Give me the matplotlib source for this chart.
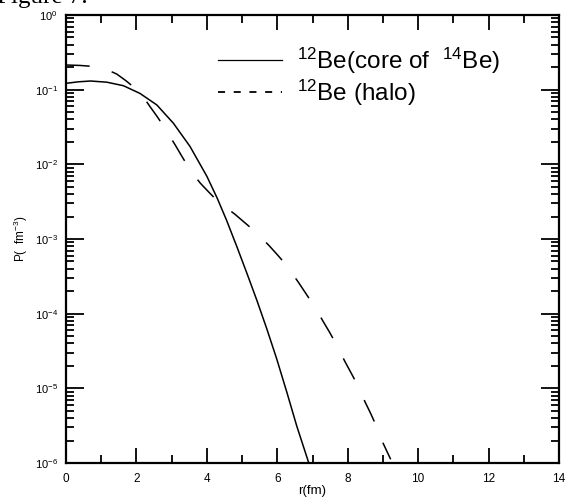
import numpy as np
import matplotlib
matplotlib.use("Agg")
import matplotlib.pyplot as plt
from matplotlib.lines import Line2D
from matplotlib.ticker import LogLocator, MultipleLocator, NullFormatter

plt.rcParams['font.family'] = ['Liberation Sans', 'DejaVu Sans']
plt.rcParams['mathtext.fontset'] = 'custom'
plt.rcParams['mathtext.rm'] = 'Liberation Sans'
plt.rcParams['mathtext.it'] = 'Liberation Sans'

# density of 12Be as core of 14Be (solid)
r_core = [0.0, 0.35, 0.7, 1.16, 1.63, 2.1, 2.58, 3.05, 3.52, 4.0, 4.3, 4.56, 4.85,
          5.13, 5.42, 5.70, 5.98, 6.27, 6.55, 6.88]
p_core = [0.1216, 0.1274, 0.1306, 0.1259, 0.1130, 0.0891, 0.0624, 0.0355, 0.0174,
          6.92e-3, 3.47e-3, 1.78e-3, 7.94e-4, 3.55e-4, 1.51e-4, 6.31e-5, 2.51e-5,
          8.91e-6, 3.16e-6, 1.05e-6]

# density of 12Be halo (dashed)
r_halo = [0.0, 0.4, 0.82, 1.1, 1.44, 1.7, 1.99, 2.2, 2.39, 2.58, 2.76, 2.93, 3.1,
          3.27, 3.44, 3.62, 3.81, 4.05, 4.28, 4.55, 4.8, 5.06, 5.32, 5.55, 5.77,
          6.0, 6.24, 6.42, 6.6, 6.79, 6.98, 7.15, 7.31, 7.48, 7.64, 7.78, 7.92,
          8.08, 8.24, 8.37, 8.49, 8.64, 8.78, 8.9, 9.01, 9.12, 9.22]
p_halo = [0.214, 0.211, 0.204, 0.191, 0.162, 0.132, 0.102, 0.0794, 0.0589, 0.0442,
          0.0331, 0.0245, 0.0182, 0.0133, 9.77e-3, 7.33e-3, 5.62e-3, 4.27e-3,
          3.31e-3, 2.63e-3, 2.14e-3, 1.68e-3, 1.32e-3, 1.04e-3, 8.13e-4, 6.17e-4,
          4.57e-4, 3.47e-4, 2.63e-4, 1.93e-4, 1.41e-4, 1.05e-4, 7.76e-5, 5.69e-5,
          4.17e-5, 3.09e-5, 2.29e-5, 1.66e-5, 1.20e-5, 8.91e-6, 6.61e-6, 4.73e-6,
          3.39e-6, 2.51e-6, 1.82e-6, 1.41e-6, 1.12e-6]

labels = [r'$^{12}$Be(core of  $^{14}$Be)', r'$^{12}$Be (halo)']

fig = plt.figure(figsize=(5.66, 4.98), dpi=100)
ax = fig.add_axes([66/566, 1 - 463/498, (559 - 66)/566, (463 - 15)/498])

ax.plot(r_core, p_core, color='black', lw=1.1)
ax.plot(r_halo, p_halo, color='black', lw=1.1, dashes=(15.5, 15))

ax.set_yscale('log')
ax.set_xlim(0, 14)
ax.set_ylim(1e-6, 1)

ax.xaxis.set_major_locator(MultipleLocator(2))
ax.xaxis.set_minor_locator(MultipleLocator(1))
ax.yaxis.set_major_locator(LogLocator(base=10, numticks=10))
ax.yaxis.set_minor_locator(LogLocator(base=10, subs=np.arange(2, 10), numticks=10))
ax.yaxis.set_minor_formatter(NullFormatter())

ax.tick_params(which='both', direction='in', top=True, right=True, width=1.3, color='black')
ax.tick_params(axis='x', which='major', length=11, labelsize=8.5, pad=7)
ax.tick_params(axis='x', which='minor', length=6)
ax.tick_params(axis='y', which='major', length=13, labelsize=8, pad=6)
ax.tick_params(axis='y', which='minor', length=6)
for s in ax.spines.values():
    s.set_linewidth(1.6)

ax.set_xlabel('r(fm)', fontsize=9.5, labelpad=0)
ax.set_ylabel(r'P(  fm$^{-3}$)', fontsize=8.5, labelpad=3)

handles = [Line2D([], [], color='black', lw=0.9),
           Line2D([], [], color='black', lw=1.3, dashes=(3.9, 4.8))]
ax.legend(handles, labels, loc='upper left', bbox_to_anchor=(0.308, 0.932),
          frameon=False, fontsize=17.5, handlelength=2.63, handletextpad=0.62,
          labelspacing=0.08, borderpad=0, borderaxespad=0)

fig.text(-0.005, 1 - 3/498, 'Figure 7.', family='Liberation Serif', fontsize=18,
         va='baseline', ha='left')

fig.savefig('out.png', dpi=100)
